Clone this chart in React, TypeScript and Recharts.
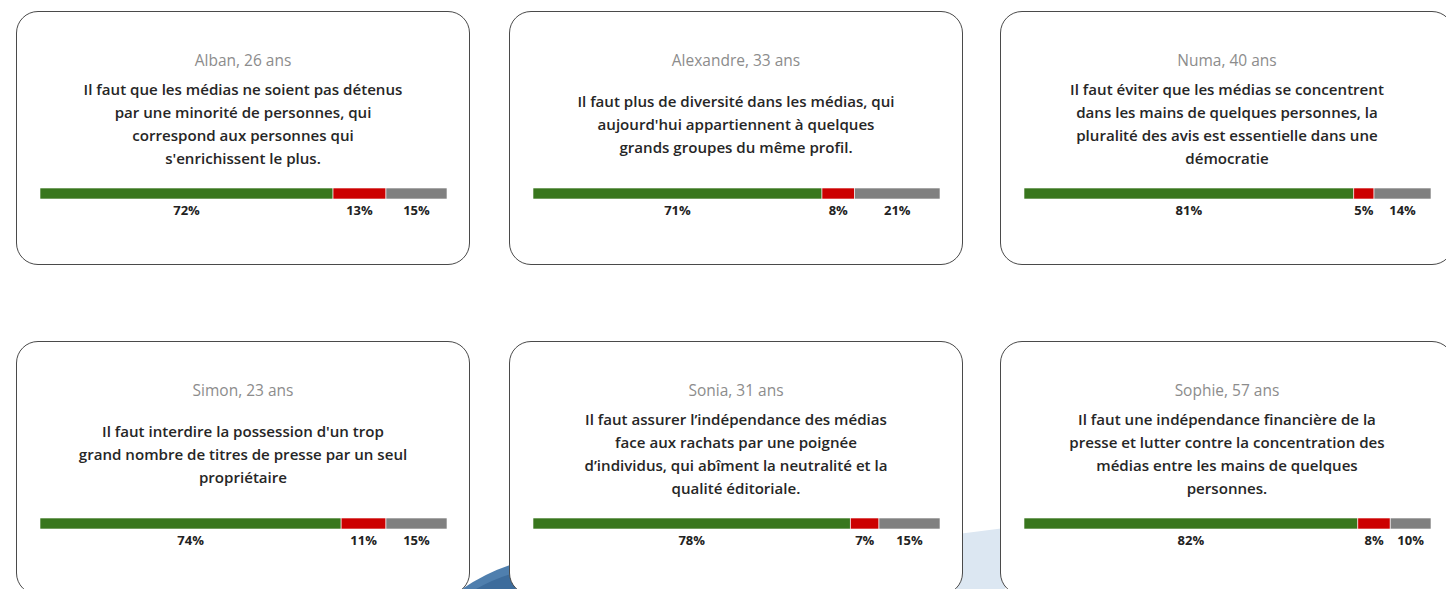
import React from 'react'
import { BarChart, Bar, XAxis, YAxis, LabelList } from 'recharts'

const people = [
  'Alban, 26 ans',
  'Alexandre, 33 ans',
  'Numa, 40 ans',
  'Simon, 23 ans',
  'Sonia, 31 ans',
  'Sophie, 57 ans',
]

const quotes = [
  'Il faut que les médias ne soient pas détenus\npar une minorité de personnes, qui\ncorrespond aux personnes qui\ns\'enrichissent le plus.',
  'Il faut plus de diversité dans les médias, qui\naujourd\'hui appartiennent à quelques\ngrands groupes du même profil.',
  'Il faut éviter que les médias se concentrent\ndans les mains de quelques personnes, la\npluralité des avis est essentielle dans une\ndémocratie',
  'Il faut interdire la possession d\'un trop\ngrand nombre de titres de presse par un seul\npropriétaire',
  'Il faut assurer l\u2019indépendance des médias\nface aux rachats par une poignée\nd\u2019individus, qui abîment la neutralité et la\nqualité éditoriale.',
  'Il faut une indépendance financière de la\npresse et lutter contre la concentration des\nmédias entre les mains de quelques\npersonnes.',
]

const favorable = [72, 71, 81, 74, 78, 82]
const opposed = [13, 8, 5, 11, 7, 8]
const undecided = [15, 21, 14, 15, 15, 10]

const cardLeft = [16, 509, 1000]
const cardTop = [11, 341]
const FONT = '"Open Sans", "Noto Sans", sans-serif'

const PctLabel = (props: any) => {
  const { x, y, width, height, value } = props
  return (
    <text
      x={x + width / 2}
      y={y + height + 16}
      textAnchor="middle"
      fontSize={13}
      fontWeight={700}
      fontFamily={FONT}
      fill="#222"
    >
      {value}%
    </text>
  )
}

function OpinionCard({ i }: { i: number }) {
  const data = [{ name: people[i], pour: favorable[i], contre: opposed[i], nsp: undecided[i] }]
  return (
    <div
      style={{
        position: 'absolute',
        left: cardLeft[i % 3],
        top: cardTop[Math.floor(i / 3)],
        width: 454,
        height: 254,
        boxSizing: 'border-box',
        border: '1.3px solid #4a4a4a',
        borderRadius: 22,
        background: '#fff',
        fontFamily: FONT,
      }}
    >
      <div
        style={{
          position: 'absolute',
          top: 38,
          left: 0,
          right: 0,
          textAlign: 'center',
          fontSize: 15.5,
          color: '#8c8c8c',
          lineHeight: '20px',
        }}
      >
        {people[i]}
      </div>
      <div
        style={{
          position: 'absolute',
          top: 64,
          height: 96,
          left: 0,
          right: 0,
          display: 'flex',
          alignItems: 'center',
          justifyContent: 'center',
        }}
      >
        <div
          style={{
            whiteSpace: 'pre-line',
            textAlign: 'center',
            fontSize: 15.1,
            fontWeight: 600,
            color: '#262626',
            lineHeight: '23px',
          }}
        >
          {quotes[i]}
        </div>
      </div>
      <div style={{ position: 'absolute', left: 23, top: 176 }}>
        <BarChart
          width={407}
          height={42}
          data={data}
          layout="vertical"
          margin={{ top: 0, right: 0, bottom: 31, left: 0 }}
          barCategoryGap={0}
        >
          <XAxis type="number" domain={[0, 100]} hide />
          <YAxis type="category" dataKey="name" hide />
          <Bar dataKey="pour" stackId="a" fill="#38761d" stroke="#ffffff" strokeWidth={0.6} isAnimationActive={false}>
            <LabelList dataKey="pour" content={PctLabel} />
          </Bar>
          <Bar dataKey="contre" stackId="a" fill="#cc0000" stroke="#ffffff" strokeWidth={0.6} isAnimationActive={false}>
            <LabelList dataKey="contre" content={PctLabel} />
          </Bar>
          <Bar dataKey="nsp" stackId="a" fill="#808080" stroke="#ffffff" strokeWidth={0.6} isAnimationActive={false}>
            <LabelList dataKey="nsp" content={PctLabel} />
          </Bar>
        </BarChart>
      </div>
    </div>
  )
}

export default function App() {
  return (
    <div
      style={{
        position: 'fixed',
        left: 0,
        top: 0,
        width: 1446,
        height: 589,
        overflow: 'hidden',
        background: '#fff',
      }}
    >
      <svg width={1446} height={589} style={{ position: 'absolute', left: 0, top: 0 }}>
        <path d="M950 535 L1005 528 L1005 589 L950 589 Z" fill="#dce7f2" />
        <path d="M462 589 Q490 570 520 562 L520 589 Z" fill="#4f7fae" />
        <path d="M476 589 Q497 577 518 572 L518 589 Z" fill="#3d6c9c" />
      </svg>
      {people.map((_, i) => (
        <OpinionCard key={i} i={i} />
      ))}
    </div>
  )
}
